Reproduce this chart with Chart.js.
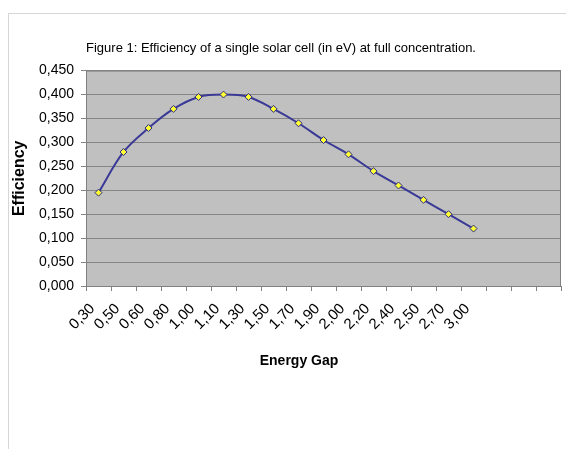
<!DOCTYPE html>
<html>
<head>
<meta charset="utf-8">
<script src="https://cdn.jsdelivr.net/npm/chart.js@4.4.1/dist/chart.umd.min.js"></script>
<style>
  html, body { margin: 0; padding: 0; background: #fff; overflow: hidden; }
  #frame { position: absolute; left: 8px; top: 13px; width: 600px; height: 500px;
           border-left: 1px solid #d6d6d6; border-top: 1px solid #d6d6d6; }
  #wrap { position: absolute; left: 0; top: 0; width: 566px; height: 449px; }
</style>
</head>
<body>
<div id="frame"></div>
<div id="wrap"><canvas id="myChart" width="566" height="449"></canvas></div>
<script>
// Datos
const energyGaps = ['0,30', '0,50', '0,60', '0,80', '1,00', '1,10', '1,30', '1,50',
                    '1,70', '1,90', '2,00', '2,20', '2,40', '2,50', '2,70', '3,00', '', '', ''];
const efficiency = [0.195, 0.280, 0.330, 0.370, 0.395, 0.400, 0.395, 0.370,
                    0.340, 0.305, 0.275, 0.240, 0.210, 0.180, 0.150, 0.120];
const yMin = 0;
const yMax = 0.45;
const yStep = 0.05;

const chartTitle = 'Figure 1: Efficiency of a single solar cell (in eV) at full concentration.';
const xTitle = 'Energy Gap';
const yTitle = 'Efficiency';

Chart.defaults.font.family = "'Liberation Sans', Arial, sans-serif";
Chart.defaults.color = '#000';

// Fondo gris del area de trazado, borde y titulo del eje X
const plotArea = {
    id: 'plotArea',
    beforeDraw(chart) {
        const { ctx, chartArea: a } = chart;
        ctx.save();
        ctx.fillStyle = '#c0c0c0';
        ctx.fillRect(a.left, a.top, a.right - a.left, a.bottom - a.top);
        ctx.restore();
    },
    beforeDatasetsDraw(chart) {
        const { ctx, chartArea: a } = chart;
        ctx.save();
        ctx.strokeStyle = '#808080';
        ctx.lineWidth = 1;
        ctx.strokeRect(a.left + 0.5, a.top + 0.5, a.right - a.left - 1, a.bottom - a.top);
        ctx.restore();
    },
    afterDraw(chart) {
        const { ctx, chartArea: a } = chart;
        ctx.save();
        ctx.font = "bold 14px 'Liberation Sans', Arial, sans-serif";
        ctx.fillStyle = '#000';
        ctx.textAlign = 'center';
        ctx.textBaseline = 'middle';
        ctx.fillText(xTitle, a.left + 213, a.bottom + 75);
        ctx.restore();
    }
};

const ctx = document.getElementById('myChart').getContext('2d');
new Chart(ctx, {
    type: 'line',
    data: {
        labels: energyGaps,
        datasets: [{
            data: efficiency,
            borderColor: '#3a3a96',
            borderWidth: 2,
            tension: 0.35,
            fill: false,
            pointStyle: 'rectRot',
            pointRadius: 3.5,
            pointBackgroundColor: '#ffff33',
            pointBorderColor: '#2a2a80',
            pointBorderWidth: 1
        }]
    },
    options: {
        responsive: false,
        animation: false,
        layout: { padding: { left: 0, right: 4, top: 0, bottom: 0 } },
        plugins: {
            legend: { display: false },
            tooltip: { enabled: false },
            title: {
                display: true,
                text: chartTitle,
                font: { size: 13, weight: 'normal' },
                color: '#000',
                padding: { top: 41, bottom: 14 }
            }
        },
        scales: {
            x: {
                type: 'category',
                offset: true,
                grid: {
                    offset: true,
                    drawOnChartArea: false,
                    drawTicks: true,
                    tickLength: 5,
                    color: '#808080'
                },
                border: { color: '#808080' },
                ticks: {
                    autoSkip: false,
                    minRotation: 45,
                    maxRotation: 45,
                    labelOffset: -6,
                    padding: 9,
                    font: { size: 15 },
                    color: '#000'
                },
                afterFit: s => {
                    s.height = 163;
                    s.paddingLeft = 0;
                    s.paddingRight = 0;
                }
            },
            y: {
                min: yMin,
                max: yMax,
                grid: { color: '#858585', tickLength: 5 },
                border: { color: '#808080' },
                ticks: {
                    stepSize: yStep,
                    padding: 7,
                    font: { size: 14 },
                    color: '#000',
                    callback: v => v.toFixed(3).replace('.', ',')
                },
                title: {
                    display: true,
                    text: yTitle,
                    font: { size: 16, weight: 'bold' },
                    color: '#000',
                    padding: { top: 10, bottom: 0 }
                },
                afterFit: s => { s.width = 86; }
            }
        }
    },
    plugins: [plotArea]
});
</script>
</body>
</html>
